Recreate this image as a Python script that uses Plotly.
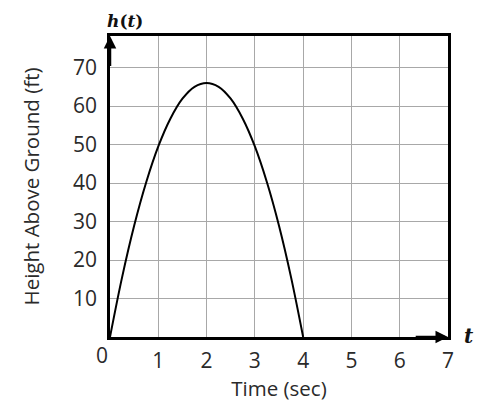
import plotly.graph_objects as go

# data
t_vals = [0, 0.25, 0.5, 0.75, 1.0, 1.25, 1.5, 1.75, 2.0, 2.25, 2.5, 2.75, 3.0, 3.25, 3.5, 3.75, 4.0]
h_vals = [0, 15.5, 28.9, 40.2, 49.5, 56.7, 61.9, 65.0, 66.0, 65.0, 61.9, 56.7, 49.5, 40.2, 28.9, 15.5, 0]
x_ticks = [1, 2, 3, 4, 5, 6, 7]
y_ticks = [10, 20, 30, 40, 50, 60, 70]

FONT = "Open Sans"
TXT = "#2a2a2a"
fig = go.Figure()
fig.add_trace(go.Scatter(x=t_vals, y=h_vals, mode="lines", line=dict(color="black", width=2, shape="spline"),
                         hoverinfo="skip", showlegend=False))

fig.update_layout(
    width=485, height=413,
    margin=dict(l=110, r=37, t=36, b=76),
    paper_bgcolor="white", plot_bgcolor="white",
    font=dict(family=FONT, size=20, color=TXT),
    xaxis=dict(range=[0, 7], tickvals=x_ticks, showgrid=True, gridcolor="#a8a8a8", gridwidth=1,
               showline=True, mirror=True, linecolor="black", linewidth=2.5, zeroline=False, automargin=False,
               ticks="", ticklabelstandoff=3, tickfont=dict(size=21, family=FONT, color=TXT),
               title=dict(text="Time (sec)", font=dict(size=20.5, family=FONT, color=TXT), standoff=6)),
    yaxis=dict(range=[0, 78.2], tickvals=y_ticks, showgrid=True, gridcolor="#a8a8a8", gridwidth=1,
               showline=True, mirror=True, linecolor="black", linewidth=2.5, zeroline=False, automargin=False,
               ticks="", ticklabelstandoff=6, tickfont=dict(size=21, family=FONT, color=TXT),
               title=dict(text="Height Above Ground (ft)", font=dict(size=20.5, family=FONT, color=TXT), standoff=28)),
    showlegend=False,
)

# axis arrows
fig.add_annotation(x=0, y=78.2, ax=0, ay=70, xref="x", yref="y", axref="x", ayref="y",
                   showarrow=True, arrowhead=2, arrowsize=1, arrowwidth=2.5, arrowcolor="black", text="")
fig.add_annotation(x=7, y=0, ax=6.3, ay=0, xref="x", yref="y", axref="x", ayref="y",
                   showarrow=True, arrowhead=2, arrowsize=1, arrowwidth=2.5, arrowcolor="black", text="")
# "0" origin label
fig.add_annotation(x=0, y=0, xref="x", yref="y", text="0", showarrow=False, xshift=-8, yshift=-18,
                   font=dict(size=21, family=FONT, color=TXT))
# variable labels
fig.add_annotation(x=0, y=1, xref="x", yref="paper", text="<b><i>h</i>(<i>t</i>)</b>", showarrow=False,
                   xanchor="left", yanchor="bottom", xshift=-5, yshift=3,
                   font=dict(size=17, family="DejaVu Serif", color="#111"))
fig.add_annotation(x=7, y=0, xref="x", yref="y", text="<b><i>t</i></b>", showarrow=False,
                   xanchor="left", yanchor="middle", xshift=14, yshift=1,
                   font=dict(size=20, family="DejaVu Serif", color="#111"))

fig.write_html("out.html", post_script="document.body.style.margin='0';",
               config={"displayModeBar": False})
